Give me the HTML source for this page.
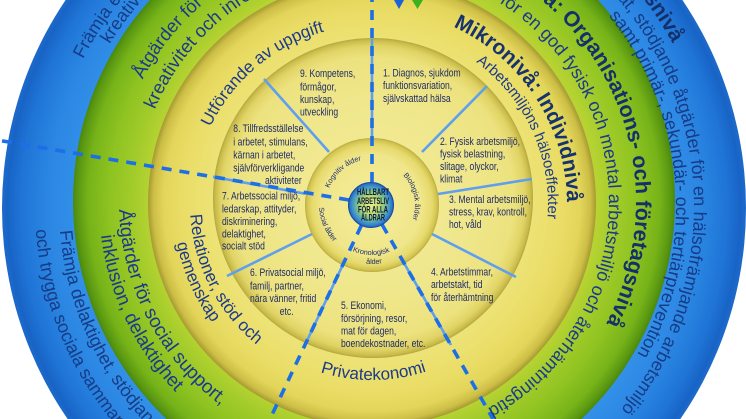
<!DOCTYPE html>
<html>
<head>
<meta charset="utf-8">
<style>
html,body{margin:0;padding:0;background:#fff;overflow:hidden;width:746px;height:419px;}
svg{display:block;overflow:hidden;}
text{font-family:"Liberation Sans",Arial,sans-serif;}
</style>
</head>
<body>
<svg xmlns="http://www.w3.org/2000/svg" xmlns:xlink="http://www.w3.org/1999/xlink" width="746" height="419" viewBox="0 0 746 419">
<defs>
  <clipPath id="frame"><rect x="0" y="0" width="746" height="419"/></clipPath>
  <radialGradient id="gB" gradientUnits="userSpaceOnUse" cx="374" cy="208" r="372">
    <stop offset="0" stop-color="#3a95ea"/>
    <stop offset="0.80" stop-color="#3390e8"/>
    <stop offset="0.88" stop-color="#2a86e2"/>
    <stop offset="0.95" stop-color="#1f74d6"/>
    <stop offset="0.985" stop-color="#1764c6"/>
    <stop offset="1" stop-color="#1e6acb"/>
  </radialGradient>
  <radialGradient id="gG" gradientUnits="userSpaceOnUse" cx="374" cy="201" r="301">
    <stop offset="0" stop-color="#c8dc40"/>
    <stop offset="0.745" stop-color="#b6d333"/>
    <stop offset="0.80" stop-color="#a3cc2a"/>
    <stop offset="0.88" stop-color="#8ec321"/>
    <stop offset="0.95" stop-color="#76b319"/>
    <stop offset="0.985" stop-color="#5a9812"/>
    <stop offset="1" stop-color="#4a880e"/>
  </radialGradient>
  <radialGradient id="gY" gradientUnits="userSpaceOnUse" cx="372" cy="203" r="224">
    <stop offset="0" stop-color="#f0e584"/>
    <stop offset="0.71" stop-color="#ede276"/>
    <stop offset="0.85" stop-color="#eadd66"/>
    <stop offset="0.93" stop-color="#e3d55a"/>
    <stop offset="0.975" stop-color="#cdbf46"/>
    <stop offset="1" stop-color="#a69a32"/>
  </radialGradient>
  <radialGradient id="gN" gradientUnits="userSpaceOnUse" cx="373" cy="198" r="160">
    <stop offset="0" stop-color="#f3ec9a"/>
    <stop offset="0.6" stop-color="#f0e78c"/>
    <stop offset="0.88" stop-color="#ece27e"/>
    <stop offset="0.95" stop-color="#e1d466"/>
    <stop offset="0.985" stop-color="#cbbd4c"/>
    <stop offset="1" stop-color="#b3a63d"/>
  </radialGradient>
  <radialGradient id="gA" gradientUnits="userSpaceOnUse" cx="372" cy="205" r="67">
    <stop offset="0" stop-color="#f4ee9c"/>
    <stop offset="0.75" stop-color="#f0e68a"/>
    <stop offset="0.9" stop-color="#e6d96c"/>
    <stop offset="0.97" stop-color="#d2c450"/>
    <stop offset="1" stop-color="#b7a93f"/>
  </radialGradient>
  <radialGradient id="gC" gradientUnits="userSpaceOnUse" cx="371" cy="205" r="22.5">
    <stop offset="0" stop-color="#e6ef88"/>
    <stop offset="0.35" stop-color="#c8e070"/>
    <stop offset="0.62" stop-color="#7cc08a"/>
    <stop offset="0.85" stop-color="#3b8fd0"/>
    <stop offset="1" stop-color="#1f63c0"/>
  </radialGradient>

  <path id="c326" d="M326 0A326 326 0 1 1 -326 0A326 326 0 1 1 326 0"/>
  <path id="c310" d="M310 0A310 310 0 1 1 -310 0A310 310 0 1 1 310 0"/>
  <path id="c340" d="M340 0A340 340 0 1 1 -340 0A340 340 0 1 1 340 0"/>
  <path id="c320" d="M320 0A320 320 0 1 1 -320 0A320 320 0 1 1 320 0"/>
  <path id="c302" d="M302 0A302 302 0 1 1 -302 0A302 302 0 1 1 302 0"/>
  <path id="c263" d="M263 0A263 263 0 1 1 -263 0A263 263 0 1 1 263 0"/>
  <path id="c236" d="M236 0A236 236 0 1 1 -236 0A236 236 0 1 1 236 0"/>
  <path id="c261" d="M261 0A261 261 0 1 1 -261 0A261 261 0 1 1 261 0"/>
  <path id="c237" d="M237 0A237 237 0 1 1 -237 0A237 237 0 1 1 237 0"/>
  <path id="c179" d="M179 0A179 179 0 1 1 -179 0A179 179 0 1 1 179 0"/>
  <path id="c195" d="M195 0A195 195 0 1 1 -195 0A195 195 0 1 1 195 0"/>
  <path id="c176" d="M176 0A176 176 0 1 1 -176 0A176 176 0 1 1 176 0"/>
  <path id="c46" d="M46 0A46 46 0 1 1 -46 0A46 46 0 1 1 46 0"/>
  <path id="c43" d="M43 0A43 43 0 1 1 -43 0A43 43 0 1 1 43 0"/>
  <path id="a315" d="M315 0A315 315 0 1 0 -315 0A315 315 0 1 0 315 0"/>
  <path id="a339" d="M339 0A339 339 0 1 0 -339 0A339 339 0 1 0 339 0"/>
  <path id="a254" d="M254 0A254 254 0 1 0 -254 0A254 254 0 1 0 254 0"/>
  <path id="a274" d="M274 0A274 274 0 1 0 -274 0A274 274 0 1 0 274 0"/>
  <path id="a182" d="M182 0A182 182 0 1 0 -182 0A182 182 0 1 0 182 0"/>
  <path id="a199" d="M199 0A199 199 0 1 0 -199 0A199 199 0 1 0 199 0"/>
  <path id="a176" d="M176 0A176 176 0 1 0 -176 0A176 176 0 1 0 176 0"/>
  <path id="a53" d="M53 0A53 53 0 1 0 -53 0A53 53 0 1 0 53 0"/>
  <path id="a50" d="M50 0A50 50 0 1 0 -50 0A50 50 0 1 0 50 0"/>
  <path id="a59" d="M59 0A59 59 0 1 0 -59 0A59 59 0 1 0 59 0"/>
</defs>

<rect x="0" y="0" width="746" height="419" fill="#ffffff"/>

<g clip-path="url(#frame)">
<circle cx="374" cy="208" r="372" fill="url(#gB)"/>
<circle cx="374" cy="201" r="301" fill="url(#gG)"/>
<circle cx="372" cy="203" r="224" fill="url(#gY)"/>
<circle cx="373" cy="198" r="160" fill="url(#gN)"/>

<g stroke="#5e9ff0" stroke-width="2.6" stroke-linecap="butt">
  <line x1="422" y1="152" x2="487" y2="86"/>
  <line x1="438" y1="194" x2="532" y2="179"/>
  <line x1="432" y1="234" x2="516" y2="277"/>
  <line x1="312" y1="234" x2="227" y2="276"/>
  <line x1="329" y1="152" x2="264" y2="79"/>
  <line x1="404" y1="263" x2="451" y2="345"/>
  <line x1="342.5" y1="265.6" x2="304" y2="347"/>
  <line x1="305" y1="193.7" x2="213" y2="176.8"/>
  <line x1="372" y1="138" x2="372" y2="39"/>
</g>

<circle cx="372" cy="205" r="67" fill="url(#gA)"/>

<g stroke="#1c6fe6" stroke-width="3.6" stroke-dasharray="10 8" fill="none">
  <line x1="372" y1="182" x2="372" y2="0"/>
  <line x1="349" y1="200" x2="0" y2="140.5"/>
  <line x1="361.4" y1="225.4" x2="270" y2="419"/>
  <line x1="382.1" y1="224.6" x2="493" y2="419"/>
</g>

<circle cx="371" cy="205" r="22.5" fill="url(#gC)" stroke="#1d4a9a" stroke-width="1"/>
<g fill="#0f1a3a" font-weight="bold" font-size="9" text-anchor="middle">
  <text x="373" y="195" textLength="32" lengthAdjust="spacingAndGlyphs">HÅLLBART</text>
  <text x="373" y="204" textLength="32" lengthAdjust="spacingAndGlyphs">ARBETSLIV</text>
  <text x="373" y="212.7" textLength="30" lengthAdjust="spacingAndGlyphs">FÖR ALLA</text>
  <text x="373" y="220.7" textLength="24" lengthAdjust="spacingAndGlyphs">ÅLDRAR</text>
</g>

<g transform="translate(374,206)" fill="#173b85" font-size="18">
  <text transform="rotate(206.8)"><textPath href="#c326" xlink:href="#c326">Främja engagemang,</textPath></text>
  <text transform="rotate(211.5)"><textPath href="#c310" xlink:href="#c310">kreativitet och inre motivation</textPath></text>
  <text transform="rotate(-208.6)" font-weight="bold" font-size="21" fill="#14306a" text-anchor="end"><textPath href="#c340" xlink:href="#c340" startOffset="50%">Makronivå: Samhällsnivå</textPath></text>
  <text transform="rotate(-140.5)" text-anchor="end"><textPath href="#c320" xlink:href="#c320" startOffset="50%">Lagstiftning, socialt skyddsnät, stödjande åtgärder för en hälsofrämjande arbetsmiljö</textPath></text>
  <text transform="rotate(-39)"><textPath href="#c302" xlink:href="#c302">samt primär-, sekundär- och tertiärprevention</textPath></text>
  <text transform="rotate(175.5)"><textPath href="#a315" xlink:href="#a315">Främja delaktighet, stödjande</textPath></text>
  <text transform="rotate(176)"><textPath href="#a339" xlink:href="#a339">och trygga sociala sammanhang</textPath></text>
</g>

<g transform="translate(373,202)" fill="#1b3a8c">
  <text transform="rotate(-152.5)" font-weight="bold" font-size="21.5" fill="#14306a" text-anchor="end"><textPath href="#c263" xlink:href="#c263" startOffset="50%">Mesonivå: Organisations- och företagsnivå</textPath></text>
  <text transform="rotate(-119)" font-size="18" text-anchor="end"><textPath href="#c236" xlink:href="#c236" startOffset="50%">Åtgärder för en god fysisk och mental arbetsmiljö och återhämtningstid</textPath></text>
  <text transform="rotate(208)" font-size="18.5"><textPath href="#c261" xlink:href="#c261">Åtgärder för utveckling,</textPath></text>
  <text transform="rotate(203)" font-size="18.5"><textPath href="#c237" xlink:href="#c237">kreativitet och inre motivation</textPath></text>
  <text transform="rotate(178.3)" font-size="19"><textPath href="#a254" xlink:href="#a254">Åtgärder för social support,</textPath></text>
  <text transform="rotate(173)" font-size="19"><textPath href="#a274" xlink:href="#a274">inklusion, delaktighet</textPath></text>
</g>

<g transform="translate(372,204)" fill="#1b3a8c" font-size="17">
  <text transform="rotate(50)" text-anchor="middle"><textPath href="#c179" xlink:href="#c179" startOffset="50%">Utförande av uppgift</textPath></text>
  <text transform="rotate(-213)" text-anchor="middle" font-weight="bold" font-size="21" fill="#17336c"><textPath href="#c195" xlink:href="#c195" startOffset="50%">Mikronivå: Individnivå</textPath></text>
  <text transform="rotate(-204.5)" text-anchor="middle" font-size="15"><textPath href="#c176" xlink:href="#c176" startOffset="50%">Arbetsmiljöns hälsoeffekter</textPath></text>
  <text transform="rotate(333)" text-anchor="middle"><textPath href="#a182" xlink:href="#a182" startOffset="50%">Relationer, stöd och</textPath></text>
  <text transform="rotate(336)" text-anchor="middle"><textPath href="#a199" xlink:href="#a199" startOffset="50%">gemenskap</textPath></text>
  <text transform="rotate(269.5)" text-anchor="middle"><textPath href="#a176" xlink:href="#a176" startOffset="50%">Privatekonomi</textPath></text>
</g>

<g transform="translate(372,205)" fill="#1f2f6a" font-size="7.3">
  <text transform="rotate(49)" text-anchor="middle"><textPath href="#c46" xlink:href="#c46" startOffset="50%">Kognitiv ålder</textPath></text>
  <text transform="rotate(-192)" text-anchor="middle"><textPath href="#c43" xlink:href="#c43" startOffset="50%">Biologisk ålder</textPath></text>
  <text transform="rotate(336.7)" text-anchor="middle"><textPath href="#a53" xlink:href="#a53" startOffset="50%">Social ålder</textPath></text>
  <text transform="rotate(271)" text-anchor="middle"><textPath href="#a50" xlink:href="#a50" startOffset="50%">Kronologisk</textPath></text>
  <text transform="rotate(268)" text-anchor="middle"><textPath href="#a59" xlink:href="#a59" startOffset="50%">ålder</textPath></text>
</g>

<g fill="#1e2b66" font-size="11">
  <text transform="translate(383,0) scale(0.78,1)">
    <tspan x="0" y="76.5">1. Diagnos, sjukdom</tspan>
    <tspan x="0" y="89">funktionsvariation,</tspan>
    <tspan x="0" y="102">självskattad hälsa</tspan>
  </text>
  <text transform="translate(440,0) scale(0.78,1)">
    <tspan x="0" y="145">2. Fysisk arbetsmiljö,</tspan>
    <tspan x="0" y="157.5">fysisk belastning,</tspan>
    <tspan x="0" y="170">slitage, olyckor,</tspan>
    <tspan x="0" y="182.5">klimat</tspan>
  </text>
  <text transform="translate(449,0) scale(0.78,1)">
    <tspan x="0" y="203">3. Mental arbetsmiljö,</tspan>
    <tspan x="0" y="215.5">stress, krav, kontroll,</tspan>
    <tspan x="0" y="228">hot, våld</tspan>
  </text>
  <text transform="translate(431,0) scale(0.78,1)">
    <tspan x="0" y="275.5">4. Arbetstimmar,</tspan>
    <tspan x="0" y="288">arbetstakt, tid</tspan>
    <tspan x="0" y="301">för återhämtning</tspan>
  </text>
  <text transform="translate(341,0) scale(0.78,1)">
    <tspan x="0" y="309">5. Ekonomi,</tspan>
    <tspan x="0" y="322">försörjning, resor,</tspan>
    <tspan x="0" y="334.5">mat för dagen,</tspan>
    <tspan x="0" y="347">boendekostnader, etc.</tspan>
  </text>
  <text transform="translate(250,0) scale(0.78,1)">
    <tspan x="0" y="276">6. Privatsocial miljö,</tspan>
    <tspan x="0" y="289.5">familj, partner,</tspan>
    <tspan x="0" y="302">nära vänner, fritid</tspan>
  </text>
  <text transform="translate(286.7,0) scale(0.78,1)" text-anchor="middle"><tspan x="0" y="315">etc.</tspan></text>
  <text transform="translate(222,0) scale(0.78,1)">
    <tspan x="0" y="199.5">7. Arbetssocial miljö,</tspan>
    <tspan x="0" y="212.5">ledarskap, attityder,</tspan>
    <tspan x="0" y="225">diskriminering,</tspan>
    <tspan x="0" y="237.5">delaktighet,</tspan>
    <tspan x="0" y="249.5">socialt stöd</tspan>
  </text>
  <text transform="translate(233.3,0) scale(0.78,1)">
    <tspan x="0" y="132">8. Tillfredsställelse</tspan>
    <tspan x="0" y="145.5">i arbetet, stimulans,</tspan>
    <tspan x="0" y="158.5">kärnan i arbetet,</tspan>
    <tspan x="0" y="171.5">självförverkligande</tspan>
  </text>
  <text transform="translate(301.7,0) scale(0.78,1)" text-anchor="end"><tspan x="0" y="184">aktiviteter</tspan></text>
  <text transform="translate(300,0) scale(0.78,1)">
    <tspan x="0" y="77">9. Kompetens,</tspan>
    <tspan x="0" y="90.5">förmågor,</tspan>
    <tspan x="0" y="103">kunskap,</tspan>
    <tspan x="0" y="115.5">utveckling</tspan>
  </text>
</g>

<polygon points="394,0 404,0 399,9" fill="#1b62d8"/>
<polygon points="412,0 423,0 417.5,9" fill="#3db01e"/>
</g>
</svg>
</body>
</html>
